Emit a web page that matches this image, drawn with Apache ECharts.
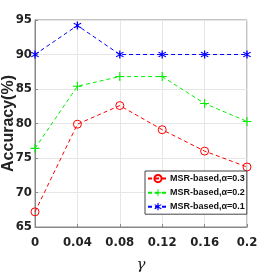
<!DOCTYPE html>
<html><head><meta charset="utf-8">
<script src="https://cdn.jsdelivr.net/npm/echarts@6/dist/echarts.min.js"></script>
<style>html,body{margin:0;padding:0;background:#fff}#c{width:273px;height:273px}</style>
</head><body><div id="c"></div>
<script>
const categories = ['0', '0.04', '0.08', '0.12', '0.16', '0.2'];
const xValues = [0, 0.04, 0.08, 0.12, 0.16, 0.2];
const seriesNames = ['MSR-based,α=0.3', 'MSR-based,α=0.2', 'MSR-based,α=0.1'];
const red03 = [67.2, 79.9, 82.6, 79.1, 76.0, 73.7];
const green02 = [76.4, 85.4, 86.8, 86.8, 82.9, 80.3];
const blue01 = [90.0, 94.2, 90.0, 90.0, 90.0, 90.0];
const yTicks = [65, 70, 75, 80, 85, 90, 95];

const plusPath = 'path://M4.4,0 L5.6,0 L5.6,4.4 L10,4.4 L10,5.6 L5.6,5.6 L5.6,10 L4.4,10 L4.4,5.6 L0,5.6 L0,4.4 L4.4,4.4 Z';
const starPath = 'path://M4.3,0 L5.7,0 L5.7,3.3 L8.6,1.6 L9.3,2.8 L6.4,4.5 L6.4,5.5 L9.3,7.2 L8.6,8.4 L5.7,6.7 L5.7,10 L4.3,10 L4.3,6.7 L1.4,8.4 L0.7,7.2 L3.6,5.5 L3.6,4.5 L0.7,2.8 L1.4,1.6 L4.3,3.3 Z';

function pairs(arr){ return xValues.map((x,i)=>[x, arr[i]]); }

const chart = echarts.init(document.getElementById('c'));
const condensed = "'DejaVu Sans Condensed', 'Liberation Sans', sans-serif";
const tickFont = {fontFamily:condensed, fontWeight:'bold', fontSize:13, color:'#222'};
chart.setOption({
  animation:false,
  grid:{left:35, right:26, top:20, bottom:46, show:true, borderColor:'#888', borderWidth:1, containLabel:false, outerBoundsMode:'none'},
  xAxis:{type:'value', min:0, max:0.2, interval:0.04,
    axisLine:{show:true, lineStyle:{color:'#888'}}, axisTick:{show:true, inside:true, length:3, lineStyle:{color:'#888'}},
    splitLine:{show:true, lineStyle:{color:'#e6e6e6'}},
    axisLabel:Object.assign({margin:9, formatter:v=>{const i=xValues.findIndex(x=>Math.abs(x-v)<1e-9);return i>=0?categories[i]:'';}}, tickFont),
    name:'γ', nameLocation:'middle', nameGap:31, nameMoveOverlap:false,
    nameTextStyle:{fontFamily:'DejaVu Serif', fontStyle:'italic', fontSize:15, color:'#222'}},
  yAxis:{type:'value', min:65, max:95, interval:5,
    axisLine:{show:true, lineStyle:{color:'#888'}}, axisTick:{show:true, inside:true, length:3, lineStyle:{color:'#888'}},
    splitLine:{show:true, lineStyle:{color:'#e6e6e6'}},
    axisLabel:Object.assign({margin:3, formatter:v=>yTicks.includes(v)?String(v):''}, tickFont),
    name:'Accuracy(%)', nameLocation:'middle', nameGap:18, nameRotate:90, nameMoveOverlap:false,
    nameTextStyle:{fontFamily:'Liberation Sans', fontWeight:'bold', fontSize:16, color:'#222'}},
  legend:{orient:'vertical', left:145, top:171, itemGap:5, itemWidth:20, itemHeight:9,
    backgroundColor:'#fff', borderColor:'#444', borderWidth:1, padding:[3,2,3,2],
    textStyle:{fontFamily:'Liberation Sans', fontWeight:'bold', fontSize:9, color:'#111', padding:[0,0,0,-3]},
    data:seriesNames},
  series:[
    {name:seriesNames[0], type:'line', data:pairs(red03), symbol:'circle', symbolSize:8,
      lineStyle:{color:'#ff0000', width:1, type:[4,3]}, itemStyle:{color:'rgba(255,255,255,0)', borderColor:'#ff0000', borderWidth:1}, color:'#ff0000'},
    {name:seriesNames[1], type:'line', data:pairs(green02), symbol:plusPath, symbolSize:9,
      lineStyle:{color:'#00ee00', width:1, type:[4,3]}, itemStyle:{color:'#00ee00'}, color:'#00ee00'},
    {name:seriesNames[2], type:'line', data:pairs(blue01), symbol:starPath, symbolSize:8,
      lineStyle:{color:'#0000ff', width:1, type:[4,3]}, itemStyle:{color:'#0000ff'}, color:'#0000ff'}
  ]
});
</script></body></html>
